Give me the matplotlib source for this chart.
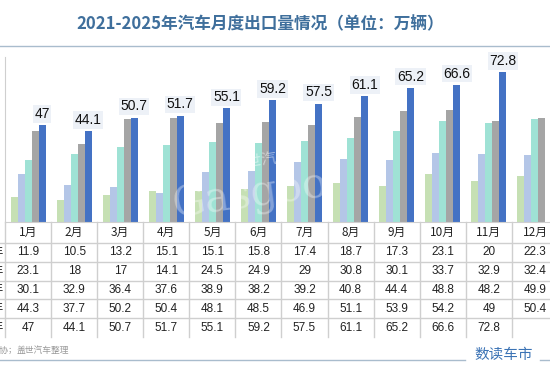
import numpy as np
import matplotlib.pyplot as plt

plt.rcParams['font.family'] = ['Liberation Sans', 'Noto Sans CJK SC', 'DejaVu Sans']

months = ['1月', '2月', '3月', '4月', '5月', '6月', '7月', '8月', '9月', '10月', '11月', '12月']
years = ['2021年', '2022年', '2023年', '2024年', '2025年']
v2021 = [11.9, 10.5, 13.2, 15.1, 15.1, 15.8, 17.4, 18.7, 17.3, 23.1, 20, 22.3]
v2022 = [23.1, 18, 17, 14.1, 24.5, 24.9, 29, 30.8, 30.1, 33.7, 32.9, 32.4]
v2023 = [30.1, 32.9, 36.4, 37.6, 38.9, 38.2, 39.2, 40.8, 44.4, 48.8, 48.2, 49.9]
v2024 = [44.3, 37.7, 50.2, 50.4, 48.1, 48.5, 46.9, 51.1, 53.9, 54.2, 49, 50.4]
v2025 = [47, 44.1, 50.7, 51.7, 55.1, 59.2, 57.5, 61.1, 65.2, 66.6, 72.8, None]
series = [v2021, v2022, v2023, v2024, v2025]
colors = ['#c6e0b4', '#b4c6e7', '#9fe2d5', '#a5a5a5', '#4472c4']

W, H = 550, 378
fig = plt.figure(figsize=(5.5, 3.78), dpi=100)
grid_c = '#cfcfcf'

# bars
ax = fig.add_axes([5 / W, (H - 222) / H, 553 / W, 165 / H])
x = np.arange(len(months))
bw = 0.152
for k, (vals, c) in enumerate(zip(series, colors)):
    y = np.array([np.nan if v is None else v for v in vals], dtype=float)
    ax.bar(x + (k - 2) * bw, y, width=bw, color=c, edgecolor='none', zorder=2)
for i, v in enumerate(v2025):
    if v is None:
        continue
    ax.annotate(f'{v:g}', (i + 2 * bw, v), xytext=(0, 3), textcoords='offset points',
                ha='center', va='bottom', fontsize=10, color='#111111',
                bbox=dict(boxstyle='square,pad=0.12', fc='#edf1f7', ec='none'))
ax.set_xlim(-0.5, 11.5)
ax.set_ylim(0, 80.1)
for s in ['top', 'right']:
    ax.spines[s].set_visible(False)
ax.spines['left'].set_color(grid_c)
ax.spines['bottom'].set_color(grid_c)
ax.set_xticks([])
ax.set_yticks([])
ax.patch.set_alpha(0)

# table below
tx = fig.add_axes([5 / W, (H - 337) / H, 553 / W, 115 / H])
tx.set_xlim(-0.5, 11.5)
tx.set_ylim(337, 222)
tx.axis('off')
bounds = [222, 243] + [243 + 18.8 * k for k in range(1, 6)]
for b in range(13):
    tx.plot([b - 0.5, b - 0.5], [222, 337], color=grid_c, lw=1, clip_on=False)
for yb in bounds[1:-1]:
    tx.plot([-0.62, 11.5], [yb, yb], color=grid_c, lw=1, clip_on=False)
for i, m in enumerate(months):
    tx.text(i, (bounds[0] + bounds[1]) / 2, m, ha='center', va='center', fontsize=8.5,
            family=['Noto Sans CJK SC'], color='#222222')
for r, (vals, yr) in enumerate(zip(series, years)):
    yc = (bounds[r + 1] + bounds[r + 2]) / 2
    for i, v in enumerate(vals):
        if v is not None:
            tx.text(i, yc, f'{v:g}', ha='center', va='center', fontsize=8.5, color='#222222')
    # legend column is cropped off in the source; only the edge of 年 shows
    fig.text(4 / W, 1 - yc / H, yr, ha='right', va='center', fontsize=8.5,
             family=['Noto Sans CJK SC'], color='#222222')

# watermark
fig.text(250 / W, 1 - 195 / H, 'Gasgoo', ha='center', va='center', fontsize=30,
         family='DejaVu Serif', color='white', alpha=0.35, rotation=8)
fig.text(262 / W, 1 - 160 / H, '盖世汽车', ha='center', va='center', fontsize=11,
         family=['Noto Sans CJK SC'], color='white', alpha=0.45, rotation=8)

# header / footer
fig.text(260 / W, 1 - 24 / H, '2021-2025年汽车月度出口量情况（单位：万辆）', ha='center',
         va='center', fontsize=12, fontweight='bold', color='#3f6f9c',
         family=['Noto Sans CJK SC'])
fig.add_artist(plt.Line2D([0, 1], [1 - 46 / H, 1 - 46 / H], color='#a9bccd', lw=1))
fig.add_artist(plt.Line2D([0, 465 / W], [1 - 360 / H, 1 - 360 / H], color='#a9bccd', lw=1))
fig.add_artist(plt.Line2D([540 / W, 1], [1 - 360 / H, 1 - 360 / H], color='#a9bccd', lw=1))
fig.text(17 / W, 1 - 350 / H, '盖世汽车整理', ha='left', va='center', fontsize=6.3,
         color='#9a9a9a', family=['Noto Sans CJK SC'])
fig.text(17 / W, 1 - 350 / H, '数据来源：中汽协；', ha='right', va='center', fontsize=6.3,
         color='#9a9a9a', family=['Noto Sans CJK SC'])
fig.text(504 / W, 1 - 355 / H, '数读车市', ha='center', va='center', fontsize=10.5,
         color='#3b73b5', family=['Noto Sans CJK SC'])

fig.savefig('out.png', dpi=100)
